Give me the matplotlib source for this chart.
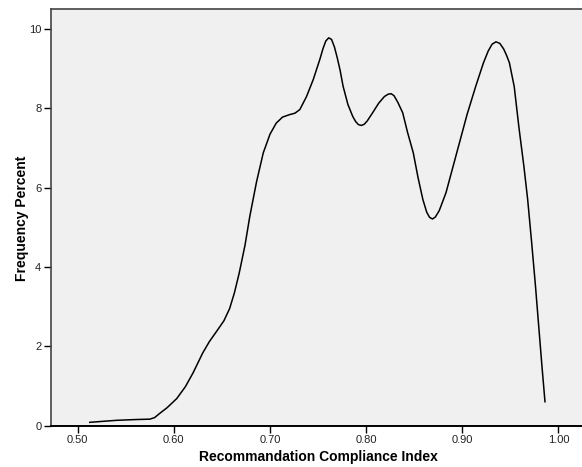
import matplotlib
matplotlib.use("Agg")
import matplotlib.pyplot as plt

plt.rcParams['font.family'] = ['Liberation Sans', 'DejaVu Sans']

compliance_index = [
    0.5125, 0.540, 0.560, 0.575, 0.580, 0.585, 0.593, 0.603, 0.612, 0.620,
    0.630, 0.637, 0.644, 0.652, 0.658, 0.663, 0.668, 0.674, 0.679, 0.686,
    0.693, 0.700, 0.7065, 0.713, 0.720, 0.726, 0.731, 0.738, 0.745, 0.752,
    0.755, 0.758, 0.761, 0.764, 0.767, 0.770, 0.773, 0.776, 0.781, 0.786,
    0.789, 0.792, 0.795, 0.798, 0.801, 0.804, 0.807, 0.813, 0.819, 0.823,
    0.826, 0.829, 0.833, 0.838, 0.843, 0.849, 0.854, 0.859, 0.863, 0.866,
    0.869, 0.872, 0.876, 0.883, 0.890, 0.897, 0.905, 0.914, 0.922, 0.927,
    0.931, 0.935, 0.939, 0.943, 0.946, 0.949, 0.954, 0.959, 0.964, 0.968,
    0.972, 0.976, 0.980, 0.983, 0.986,
]
frequency_percent = [
    0.08, 0.13, 0.15, 0.16, 0.20, 0.30, 0.45, 0.68, 0.98, 1.33,
    1.83, 2.12, 2.36, 2.64, 2.95, 3.35, 3.85, 4.55, 5.28, 6.15,
    6.88, 7.35, 7.63, 7.78, 7.84, 7.88, 7.97, 8.30, 8.73, 9.25,
    9.50, 9.70, 9.78, 9.74, 9.55, 9.27, 8.95, 8.56, 8.10, 7.80,
    7.67, 7.59, 7.57, 7.60, 7.68, 7.79, 7.90, 8.13, 8.30, 8.36,
    8.37, 8.32, 8.15, 7.89, 7.40, 6.88, 6.25, 5.70, 5.38, 5.25,
    5.21, 5.26, 5.42, 5.87, 6.50, 7.13, 7.85, 8.56, 9.15, 9.45,
    9.62, 9.68, 9.64, 9.50, 9.34, 9.15, 8.55, 7.50, 6.55, 5.70,
    4.65, 3.55, 2.35, 1.45, 0.60,
]
x_ticks = [0.50, 0.60, 0.70, 0.80, 0.90, 1.00]
x_tick_labels = ["0.50", "0.60", "0.70", "0.80", "0.90", "1.00"]
y_ticks = [0, 2, 4, 6, 8, 10]
y_tick_labels = ["0", "2", "4", "6", "8", "10"]

fig = plt.figure(figsize=(5.82, 4.67), dpi=100)
ax = fig.add_axes([51/582, 41.5/467, 1.0 - 51/582, (425.5 - 9.3)/467])
ax.set_facecolor('#f0f0f0')

ax.plot(compliance_index, frequency_percent, color='black', lw=1.1,
        solid_joinstyle='round', antialiased=True)

ax.set_xlim(0.4722, 1.0245)
ax.set_ylim(0, 10.5)
ax.set_xticks(x_ticks)
ax.set_xticklabels(x_tick_labels)
ax.set_yticks(y_ticks)
ax.set_yticklabels(y_tick_labels)
ax.tick_params(axis='both', direction='out', length=5, width=1, colors='black',
               labelsize=8, labelcolor='#222222', pad=2)

for s in ['top', 'left']:
    ax.spines[s].set_color('#444444')
    ax.spines[s].set_linewidth(1.2)
ax.spines['bottom'].set_color('black')
ax.spines['bottom'].set_linewidth(1.4)
ax.spines['right'].set_visible(False)

ax.set_xlabel('Recommandation Compliance Index', fontsize=10, fontweight='bold')
ax.xaxis.set_label_coords((318 - 51) / 531, (425.5 - 457) / 416.2)
ax.set_ylabel('Frequency Percent', fontsize=10, fontweight='bold')
ax.yaxis.set_label_coords((22 - 51) / 531, (425.5 - 218) / 416.2)
ax.xaxis.label.set_va('center')
ax.yaxis.label.set_va('center')

fig.savefig('out.png', dpi=100, facecolor='white')
